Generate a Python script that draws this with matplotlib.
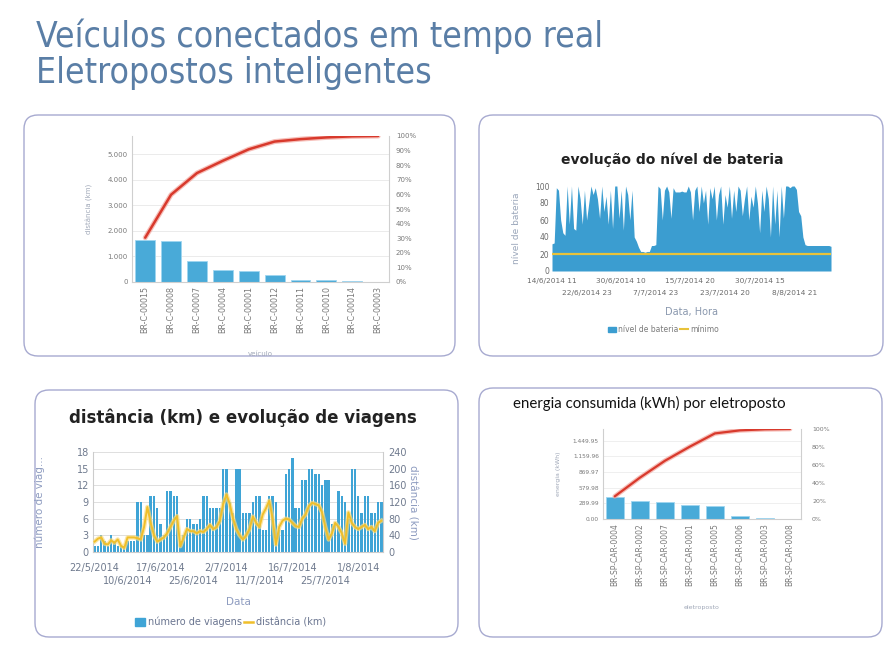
import numpy as np
import matplotlib
matplotlib.use("Agg")
import matplotlib.pyplot as plt
from matplotlib import font_manager
from matplotlib.patches import FancyBboxPatch, Patch
from matplotlib.lines import Line2D

# --- data ---
veiculos = ["BR-C-00015", "BR-C-00008", "BR-C-00007", "BR-C-00004", "BR-C-00001",
            "BR-C-00012", "BR-C-00011", "BR-C-00010", "BR-C-00014", "BR-C-00003"]
dist_veiculo = [1660, 1610, 810, 460, 430, 290, 90, 65, 40, 13]

bateria_ticks = ["14/6/2014 11", "22/6/2014 23", "30/6/2014 10", "7/7/2014 23",
                 "15/7/2014 20", "23/7/2014 20", "30/7/2014 15", "8/8/2014 21"]
bateria = [32, 33, 98, 95, 60, 45, 42, 100, 55, 100, 50, 48, 100, 85, 55, 95, 60, 80, 100, 90,
           98, 85, 62, 100, 70, 88, 55, 95, 50, 100, 100, 62, 95, 48, 100, 90, 60, 95, 40, 35,
           28, 23, 23, 22, 23, 23, 30, 30, 31, 100, 97, 60, 95, 100, 93, 62, 98, 93, 93, 93,
           94, 93, 93, 100, 93, 60, 95, 100, 70, 100, 80, 95, 55, 98, 85, 100, 60, 90, 100, 55,
           90, 75, 100, 62, 95, 70, 100, 95, 65, 85, 100, 60, 88, 75, 100, 80, 45, 95, 70, 100,
           85, 40, 100, 55, 95, 40, 100, 62, 100, 100, 98, 100, 100, 96, 70, 65, 40, 31, 30, 30,
           30, 30, 30, 30, 30, 30, 30, 30, 30, 29]
minimo = 20

viagens_ticks = ["22/5/2014", "10/6/2014", "17/6/2014", "25/6/2014", "2/7/2014",
                 "11/7/2014", "16/7/2014", "25/7/2014", "1/8/2014"]
viagens = [1, 1, 3, 2, 1, 3, 2, 1, 1, 1, 2, 2, 2, 9, 9, 3, 3, 10, 10, 8,
           5, 3, 11, 11, 10, 10, 2, 3, 6, 6, 5, 5, 6, 10, 10, 8, 8, 8, 8, 15,
           15, 9, 7, 15, 15, 7, 7, 7, 9, 10, 10, 4, 4, 10, 10, 9, 4, 4, 14, 15,
           17, 8, 8, 13, 13, 15, 15, 14, 14, 12, 13, 13, 5, 5, 11, 10, 9, 6, 15, 15,
           10, 7, 10, 10, 7, 7, 9, 9]
distancia = [25, 32, 35, 20, 18, 28, 22, 30, 15, 10, 35, 35, 35, 33, 30, 60, 108, 70, 40, 25,
             30, 35, 45, 60, 75, 86, 14, 35, 55, 50, 50, 45, 50, 48, 55, 65, 55, 60, 75, 115,
             138, 115, 80, 55, 40, 30, 40, 55, 85, 70, 60, 90, 105, 123, 80, 18, 60, 75, 80, 78,
             70, 62, 60, 80, 90, 110, 118, 115, 112, 95, 60, 30, 45, 70, 60, 45, 20, 95, 70, 60,
             55, 60, 65, 55, 60, 50, 70, 75]

eletropostos = ["BR-SP-CAR-0004", "BR-SP-CAR-0002", "BR-SP-CAR-0007", "BR-SP-CAR-0001",
                "BR-SP-CAR-0005", "BR-SP-CAR-0006", "BR-SP-CAR-0003", "BR-SP-CAR-0008"]
energia = [415, 341, 310, 260, 242, 56, 19, 6]
energia_ticks = [0, 289.99, 579.98, 869.97, 1159.96, 1449.95]

W, H = 894, 651
fig = plt.figure(figsize=(W / 100, H / 100), dpi=100)
fig.patch.set_facecolor("white")

# narrow heading font if the condensed DejaVu face is installed
condensed = any(f.name == "DejaVu Sans" and f.stretch == "condensed"
                for f in font_manager.fontManager.ttflist)
head_kw = dict(family="DejaVu Sans", fontstretch="condensed", fontsize=25.5) if condensed \
    else dict(family="DejaVu Sans", fontsize=23)

BLUE_BAR = "#49aad8"
RED = "#d8392c"
YELLOW = "#f0bf2a"
TICK = "#7a7a7a"


def add_ax(left, top, right, bottom):
    return fig.add_axes([left / W, 1 - bottom / H, (right - left) / W, (bottom - top) / H])


def thousands(v):
    return f"{int(v):,}".replace(",", ".")


def money(v):
    s = f"{v:,.2f}"
    return s.replace(",", ".")


def two_row_ticks(ax, step, labels, pad1, pad2, size, color):
    # even labels on the first row, odd labels on a second row below
    pos = np.arange(len(labels)) * step
    ax.set_xticks(pos[::2], labels[::2])
    ax.set_xticks(pos[1::2], labels[1::2], minor=True)
    ax.tick_params(axis="x", which="major", pad=pad1, length=0, labelsize=size, labelcolor=color)
    ax.tick_params(axis="x", which="minor", pad=pad2, length=0, labelsize=size, labelcolor=color)


# background layer in pixel coordinates
bg = fig.add_axes([0, 0, 1, 1])
bg.set_xlim(0, W)
bg.set_ylim(H, 0)
bg.axis("off")

bg.text(36, 47, "Veículos conectados em tempo real", color="#5a7ea6", va="baseline", **head_kw)
bg.text(36, 83, "Eletropostos inteligentes", color="#5a7ea6", va="baseline", **head_kw)

for x0, y0, x1, y1 in [(24, 115, 455, 356), (479, 115, 883, 356),
                       (35, 390, 458, 637), (479, 388, 882, 637)]:
    bg.add_patch(FancyBboxPatch((x0, y0), x1 - x0, y1 - y0,
                                boxstyle="round,pad=0,rounding_size=14",
                                fc="white", ec="#a7aad0", lw=1.0))

# --- panel 1: pareto distance per vehicle ---
ax1 = add_ax(132, 136, 389, 282)
x1 = np.arange(len(dist_veiculo))
ax1.bar(x1, dist_veiculo, width=0.77, color=BLUE_BAR, edgecolor="#9fd6f0", lw=0.6, zorder=2)
ax1.set_xlim(-0.51, 9.42)
ax1.set_ylim(0, 5714)
ax1.set_yticks(range(0, 5001, 1000))
ax1.set_yticklabels([thousands(v) for v in range(0, 5001, 1000)])
ax1.set_xticks(x1)
ax1.set_xticklabels(veiculos, rotation=90)
ax1.yaxis.grid(True, color="#e8e8e8", lw=0.6)
ax1.set_axisbelow(True)
ax1.tick_params(length=0, labelsize=5, labelcolor=TICK, pad=3)
ax1.tick_params(axis="x", labelsize=5.8)
ax1.spines["top"].set_visible(False)
for s in ["left", "right", "bottom"]:
    ax1.spines[s].set_color("#cfcfcf")
ax1.set_ylabel("distância (km)", fontsize=5, color="#a0a8b8")
ax1.yaxis.set_label_coords(-0.152, 0.5)
ax1.set_xlabel("veículo", fontsize=5, color="#a0a8b8")
ax1.xaxis.set_label_coords(0.5, -0.475)

ax1r = ax1.twinx()
cum1 = np.cumsum(dist_veiculo) / np.sum(dist_veiculo) * 100
ax1r.plot(x1, cum1, color="#f3a39b", lw=3.6, alpha=0.7, solid_capstyle="round")
ax1r.plot(x1, cum1, color=RED, lw=1.8, solid_capstyle="round")
ax1r.set_ylim(0, 100)
ax1r.set_yticks(range(0, 101, 10))
ax1r.set_yticklabels([f"{v}%" for v in range(0, 101, 10)])
ax1r.tick_params(length=0, labelsize=5, labelcolor=TICK, pad=5)
for s in ax1r.spines.values():
    s.set_visible(False)

# --- panel 2: battery level ---
ax2 = add_ax(552, 186, 831, 271)
x2 = np.arange(len(bateria))
ax2.fill_between(x2, bateria, color="#3b9dd0", lw=0)
ax2.axhline(minimo, color="#e8c23a", lw=1.6)
ax2.set_xlim(0, len(bateria) - 1)
ax2.set_ylim(0, 100)
ax2.set_yticks(range(0, 101, 20))
ax2.tick_params(length=0, labelsize=5.5, labelcolor="#6a6a6a", pad=2)
two_row_ticks(ax2, 16, bateria_ticks, 5, 14, 5.3, "#6a6a6a")
for s in ax2.spines.values():
    s.set_visible(False)
ax2.set_ylabel("nível de bateria", fontsize=6.5, color="#9aa6ba")
ax2.yaxis.set_label_coords(-0.11, 0.5)
ax2.set_xlabel("Data, Hora", fontsize=7, color="#8a98ae")
ax2.xaxis.set_label_coords(0.5, -0.42)
ax2.legend(handles=[Patch(color="#3b9dd0", label="nível de bateria"),
                    Line2D([], [], color="#e8c23a", lw=1.5, label="mínimo")],
           loc="center", bbox_to_anchor=(0.4, -0.69), ncol=2, frameon=False,
           fontsize=5.5, handlelength=1.0, handleheight=0.8, handletextpad=0.3,
           columnspacing=0.2, labelcolor="#7a7a7a")
bg.text(672, 160, "evolução do nível de bateria", fontsize=10, fontweight="bold",
        color="#222222", ha="center", va="center")

# --- panel 3: trips and distance ---
ax3 = add_ax(93, 452, 383, 552)
x3 = np.arange(len(viagens))
ax3.bar(x3, viagens, width=0.72, color="#3fa4d6", zorder=2)
ax3.set_xlim(-0.5, len(viagens) - 0.5)
ax3.set_ylim(0, 18)
ax3.set_yticks(range(0, 19, 3))
ax3.yaxis.grid(True, color="#d9d9d9", lw=0.6)
ax3.set_axisbelow(True)
ax3.tick_params(length=0, labelsize=7, labelcolor="#6f7a8e", pad=3)
two_row_ticks(ax3, 10, viagens_ticks, 8, 17.5, 7, "#6f7a8e")
ax3.spines["top"].set_visible(False)
for s in ["left", "right", "bottom"]:
    ax3.spines[s].set_color("#cccccc")
ax3.set_ylabel("número de viag...", fontsize=7.5, color="#8e9cc0")
ax3.yaxis.set_label_coords(-0.165, 0.5)
ax3.set_xlabel("Data", fontsize=7.5, color="#8e9cc0")
ax3.xaxis.set_label_coords(0.5, -0.45)

ax3r = ax3.twinx()
ax3r.plot(x3, distancia, color="#f8dc82", lw=3.2, alpha=0.7)
ax3r.plot(x3, distancia, color=YELLOW, lw=1.4)
ax3r.set_ylim(0, 240)
ax3r.set_yticks(range(0, 241, 40))
ax3r.tick_params(length=0, labelsize=7, labelcolor="#6f7a8e", pad=4)
for s in ax3r.spines.values():
    s.set_visible(False)
ax3r.set_ylabel("distância (km)", fontsize=7.5, color="#8e9cc0", rotation=270)
ax3r.yaxis.set_label_coords(1.12, 0.5)
ax3.legend(handles=[Patch(color="#3fa4d6", label="número de viagens"),
                    Line2D([], [], color=YELLOW, lw=1.8, label="distância (km)")],
           loc="center", bbox_to_anchor=(0.475, -0.70), ncol=2, frameon=False,
           fontsize=7, handlelength=1.0, handleheight=0.8, handletextpad=0.3,
           columnspacing=0.2, labelcolor="#6a7590")
bg.text(243, 418, "distância (km) e evolução de viagens", fontsize=12,
        fontweight="bold", color="#222222", ha="center", va="center")

# --- panel 4: energy per charging station ---
ax4 = add_ax(603, 429, 801, 519)
x4 = np.arange(len(energia))
ax4.bar(x4, energia, width=0.73, color=BLUE_BAR, edgecolor="#9fd6f0", lw=0.6, zorder=2)
ax4.set_xlim(-0.47, 7.44)
ax4.set_ylim(0, 1667)
ax4.set_yticks(energia_ticks)
ax4.set_yticklabels([money(v) for v in energia_ticks])
ax4.set_xticks(x4)
ax4.set_xticklabels(eletropostos, rotation=90)
ax4.yaxis.grid(True, color="#ececec", lw=0.6)
ax4.set_axisbelow(True)
ax4.tick_params(length=0, labelsize=4.2, labelcolor=TICK, pad=3)
ax4.tick_params(axis="x", labelsize=5.5)
ax4.spines["top"].set_visible(False)
for s in ["left", "right", "bottom"]:
    ax4.spines[s].set_color("#cfcfcf")
ax4.set_ylabel("energia (kWh)", fontsize=4.5, color="#a0a8b8")
ax4.yaxis.set_label_coords(-0.21, 0.5)
ax4.set_xlabel("eletroposto", fontsize=4.5, color="#a0a8b8")
ax4.xaxis.set_label_coords(0.5, -0.96)

ax4r = ax4.twinx()
cum4 = np.cumsum(energia) / np.sum(energia) * 100
ax4r.plot(x4, cum4, color="#f3a39b", lw=3.4, alpha=0.7, solid_capstyle="round")
ax4r.plot(x4, cum4, color=RED, lw=1.6, solid_capstyle="round")
ax4r.set_ylim(0, 100)
ax4r.set_yticks(range(0, 101, 20))
ax4r.set_yticklabels([f"{v}%" for v in range(0, 101, 20)])
ax4r.tick_params(length=0, labelsize=4.5, labelcolor=TICK, pad=8)
for s in ax4r.spines.values():
    s.set_visible(False)
bg.text(513, 403, "energia consumida (kWh) por eletroposto", fontsize=10.8,
        family="Lato", color="#111111", ha="left", va="center")

fig.savefig("out.png", dpi=100)
